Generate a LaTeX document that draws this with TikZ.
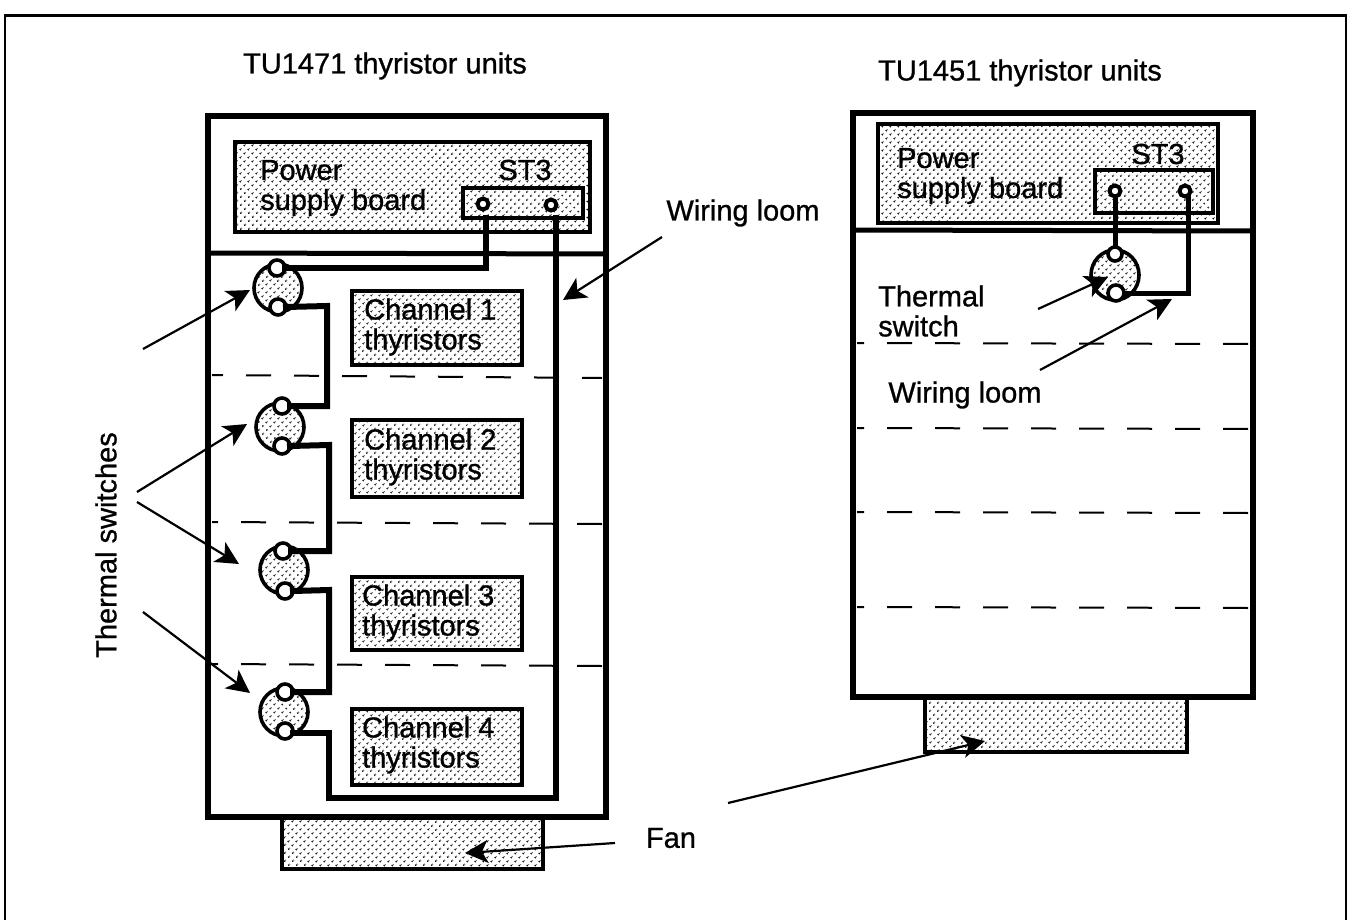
\documentclass[tikz,border=0pt]{standalone}
\usepackage{fontspec}
\setmainfont{Liberation Sans}
\newfontfamily\scanfont[FakeBold=0.9]{Liberation Sans}
\usetikzlibrary{shapes.geometric,arrows.meta,patterns.meta}
\tikzset{
  x=1pt,y=-1pt,
  dotted fill/.style={preaction={fill=white},pattern={Dots[distance=5.4pt,radius=1.15pt,angle=45]},pattern color=black!90},
  unit/.style={draw,line width=6pt,fill=none,rectangle,inner sep=0pt,outer sep=0pt},
  panel/.style={draw,line width=3.6pt,dotted fill,rectangle,inner sep=0pt,outer sep=0pt},
  switchbody/.style={draw,line width=3.6pt,ellipse,dotted fill,inner sep=0pt,outer sep=0pt,minimum width=48pt,minimum height=48pt},
  pin/.style={draw,line width=3.6pt,circle,fill=white,inner sep=0pt,outer sep=0pt,minimum size=16pt},
  stpin/.style={draw,line width=4pt,circle,fill=white,inner sep=0pt,outer sep=0pt,minimum size=11pt},
  wire/.style={line width=6pt,line cap=rect},
  thinwire/.style={line width=5pt},
  divider/.style={line width=5pt},
  partition/.style={line width=2pt,dash pattern=on 25pt off 23pt},
  pointer/.style={line width=2.2pt,-{Stealth[length=23pt,width=23pt,inset=6pt]}},
  label/.style={font=\scanfont\fontsize{29}{30}\selectfont,inner sep=0pt,align=left,text=black},
}
\begin{document}
\begin{tikzpicture}
\useasboundingbox (0,0) rectangle (1351,920);
\fill[white] (0,0) rectangle (1351,920);
% outer frame
\coordinate (frameA) at (5,920);
\coordinate (frameB) at (5,15.5);
\coordinate (frameC) at (1346,15.5);
\coordinate (frameD) at (1346,920);
\draw[line width=2.4pt] (frameA) -- (frameB) -- (frameC) -- (frameD);
% ---------- left unit
\node[panel,minimum width=261pt,minimum height=52pt] (fanL) at (412.5,843) {};
\node[unit,minimum width=398pt,minimum height=701pt] (unitL) at (407,466.5) {};
\coordinate (dl1a) at (212,375); \coordinate (dl1b) at (602,378);
\coordinate (dl2a) at (212,522); \coordinate (dl2b) at (602,524);
\coordinate (dl3a) at (212,664); \coordinate (dl3b) at (602,666);
\draw[partition,dash phase=14pt] (dl1a) -- (dl1b);
\draw[partition,dash phase=19pt] (dl2a) -- (dl2b);
\draw[partition,dash phase=19pt] (dl3a) -- (dl3b);
\coordinate (divLa) at (208,253); \coordinate (divLb) at (606,254);
\draw[divider] (divLa) -- (divLb);
\node[panel,minimum width=355pt,minimum height=90pt] (psL) at (412.5,187) {};
\node[panel,minimum width=120pt,minimum height=30pt] (stL) at (523,203) {};
\node[stpin] (stL1) at (483,204) {};
\node[stpin] (stL2) at (551,205) {};
\node[panel,minimum width=170pt,minimum height=74pt] (ch1) at (437,328) {};
\node[panel,minimum width=170pt,minimum height=77pt] (ch2) at (437,458.5) {};
\node[panel,minimum width=170pt,minimum height=73pt] (ch3) at (437,613.5) {};
\node[panel,minimum width=170pt,minimum height=76pt] (ch4) at (437,747) {};
% switches
\node[switchbody] (sw1) at (278,288) {};
\node[pin] (sw1t) at (277,268) {};
\node[pin] (sw1b) at (278,307) {};
\node[switchbody] (sw2) at (280,427) {};
\node[pin] (sw2t) at (282,406) {};
\node[pin] (sw2b) at (282,446) {};
\node[switchbody] (sw3) at (284,570) {};
\node[pin] (sw3t) at (283,551) {};
\node[pin] (sw3b) at (285,591) {};
\node[switchbody] (sw4) at (284,712) {};
\node[pin] (sw4t) at (285,692) {};
\node[pin] (sw4b) at (285,731) {};
% wiring
\coordinate (c1) at (327,306);
\coordinate (c2) at (329,445);
\coordinate (c3) at (329,590);
\coordinate (c4) at (329,733);
\coordinate (c5) at (329,798);
\coordinate (c6) at (556,798);
\draw[wire] ([xshift=3pt]stL1 |- stL.south) |- (sw1t.east);
\draw[wire] (sw1b.east) -- (c1) |- (sw2t.east);
\draw[wire] (sw2b.east) -- (c2) |- (sw3t.east);
\draw[wire] (sw3b.east) -- (c3) |- (sw4t.east);
\draw[wire] ([yshift=-2pt]sw4b.east) -- (c4) -- (c5) -- (c6) -- ([xshift=5pt]stL2 |- stL.south);
% left texts
\node[label] (titleL) at (385,66) {TU1471 thyristor units};
\node[label,anchor=west] (psLt) at (260,188) {Power\\supply board};
\node[label] (stLt) at (525,170) {ST3};
\node[label,anchor=west] (ch1t) at (364,327) {Channel 1\\thyristors};
\node[label,anchor=west] (ch2t) at (364,457) {Channel 2\\thyristors};
\node[label,anchor=west] (ch3t) at (362,613) {Channel 3\\thyristors};
\node[label,anchor=west] (ch4t) at (362,745) {Channel 4\\thyristors};
\node[label] (loomL) at (743,213) {Wiring loom};
\node[label,rotate=90] (tsL) at (106,545) {Thermal switches};
\node[label] (fanT) at (671,838) {Fan};
% left pointers
\coordinate (a1) at (143,349); \coordinate (a2) at (137,492);
\coordinate (a3) at (137,502); \coordinate (a4) at (143,612);
\coordinate (a5) at (662,237); \coordinate (a6) at (615,843);
\coordinate (t1) at (250,290); \coordinate (t2) at (247,424);
\coordinate (t3) at (239,564); \coordinate (t4) at (250,693);
\coordinate (t5) at (563,300); \coordinate (t6) at (465,853);
\draw[pointer] (a1) -- (t1);
\draw[pointer] (a2) -- (t2);
\draw[pointer] (a3) -- (t3);
\draw[pointer] (a4) -- (t4);
\draw[pointer] (a5) -- (t5);
\draw[pointer] (a6) -- (t6);
% ---------- right unit
\node[panel,minimum width=262pt,minimum height=55pt] (fanR) at (1056,724.5) {};
\node[unit,minimum width=400pt,minimum height=584pt] (unitR) at (1052.5,405) {};
\coordinate (dr1a) at (857,343); \coordinate (dr1b) at (1249,344);
\coordinate (dr2a) at (857,428); \coordinate (dr2b) at (1249,429);
\coordinate (dr3a) at (857,512); \coordinate (dr3b) at (1249,513);
\coordinate (dr4a) at (857,607); \coordinate (dr4b) at (1249,608);
\draw[partition,dash phase=18pt] (dr1a) -- (dr1b);
\draw[partition,dash phase=18pt] (dr2a) -- (dr2b);
\draw[partition,dash phase=18pt] (dr3a) -- (dr3b);
\draw[partition,dash phase=18pt] (dr4a) -- (dr4b);
\coordinate (divRa) at (853,230); \coordinate (divRb) at (1252,231);
\draw[divider] (divRa) -- (divRb);
\node[panel,minimum width=340pt,minimum height=99pt] (psR) at (1048,173.5) {};
\node[panel,minimum width=118pt,minimum height=43pt] (stR) at (1154,191.5) {};
\node[switchbody,minimum width=48pt,minimum height=50pt] (swR) at (1115,275) {};
\node[pin,minimum size=14pt] (swRt) at (1115,254) {};
\node[pin,minimum size=16pt] (swRb) at (1116,293) {};
\node[stpin] (stR1) at (1115,191) {};
\node[stpin] (stR2) at (1185,191) {};
\draw[thinwire] (stR1.south) -- (swRt.north);
\draw[thinwire] ([xshift=3pt]stR2.south) |- (swRb.east);
% right texts
\node[label] (titleR) at (1020,73) {TU1451 thyristor units};
\node[label,anchor=west] (psRt) at (897,176) {Power\\supply board};
\node[label] (stRt) at (1158,154) {ST3};
\node[label,anchor=west] (tsR) at (878,311) {Thermal\\switch};
\node[label] (loomR) at (965,395) {Wiring loom};
% right pointers
\coordinate (b1) at (1038,309); \coordinate (b2) at (1040,370); \coordinate (b3) at (728,803);
\coordinate (u1) at (1108,277); \coordinate (u2) at (1172,299); \coordinate (u3) at (985,741);
\draw[pointer] (b1) -- (u1);
\draw[pointer] (b2) -- (u2);
\draw[pointer] (b3) -- (u3);
\end{tikzpicture}
\end{document}
